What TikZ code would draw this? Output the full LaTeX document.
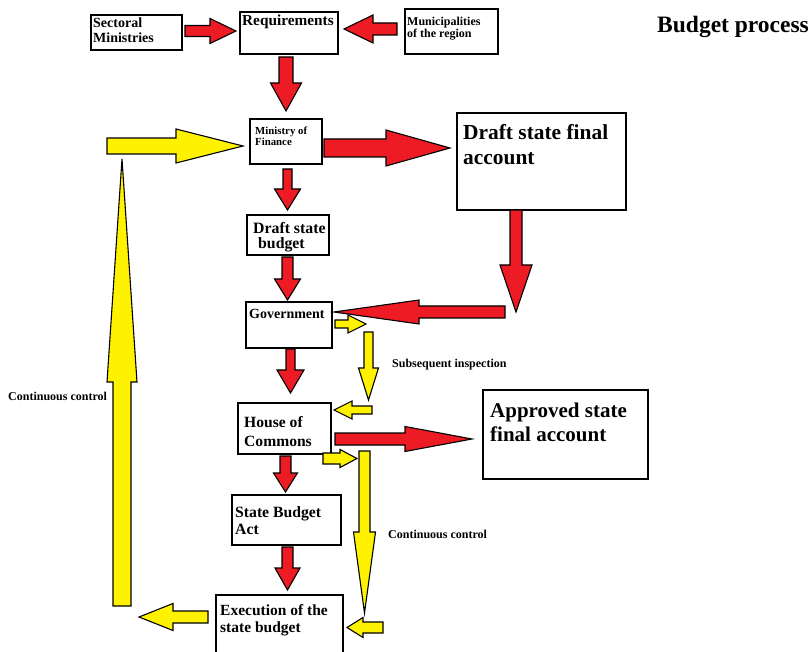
\documentclass[tikz,border=0pt]{standalone}
\usepackage{fontspec}
\setmainfont{Liberation Serif}
\definecolor{pred}{RGB}{237,28,36}
\definecolor{pyel}{RGB}{255,242,0}
\newcommand{\harr}[7]{\draw[blk,fill=#1] (#2,{#5-#6}) -- (#3,{#5-#6}) -- (#3,{#5-#7}) -- (#4,#5) -- (#3,{#5+#7}) -- (#3,{#5+#6}) -- (#2,{#5+#6}) -- cycle;}
\newcommand{\varr}[7]{\draw[blk,fill=#1] ({#2-#6},#3) -- ({#2-#6},#4) -- ({#2-#7},#4) -- (#2,#5) -- ({#2+#7},#4) -- ({#2+#6},#4) -- ({#2+#6},#3) -- cycle;}
\begin{document}
\begin{tikzpicture}[x=1pt,y=-1pt,
  box/.style={draw,line width=1.6pt,rectangle,inner sep=0,anchor=north west},
  txt/.style={inner sep=0,anchor=north west,align=left},
  blk/.style={draw=black,line width=1.1pt,line join=miter}]
\clip (0,0) rectangle (809,652);
\fill[white] (0,0) rectangle (809,652);
% boxes
\node[box,minimum width=91pt,minimum height=35pt] (sect) at (90,14) {};
\node[box,minimum width=98pt,minimum height=42pt] (req) at (239,11) {};
\node[box,minimum width=93pt,minimum height=45pt] (mun) at (404,8) {};
\node[box,minimum width=72pt,minimum height=45pt] (mof) at (249,118) {};
\node[box,minimum width=169pt,minimum height=97pt] (dsfa) at (456,112) {};
\node[box,minimum width=82pt,minimum height=40pt] (dsb) at (246,214) {};
\node[box,minimum width=86pt,minimum height=46pt] (gov) at (245,301) {};
\node[box,minimum width=93pt,minimum height=51pt] (hoc) at (237,402) {};
\node[box,minimum width=165pt,minimum height=89pt] (apr) at (482,389) {};
\node[box,minimum width=109pt,minimum height=50pt] (sba) at (231,494) {};
\node[box,minimum width=127pt,minimum height=70pt] (exe) at (215,594) {};
% texts
\node[txt,font=\bfseries\fontsize{14}{15.4}\selectfont] (tsect) at (93,17.5) {Sectoral\\Ministries};
\node[txt,font=\bfseries\fontsize{15.3}{17}\selectfont] (treq) at (242,15) {Requirements};
\node[txt,font=\bfseries\fontsize{12}{12}\selectfont] (tmun) at (407,16.6) {Municipalities\\of the region};
\node[txt,font=\bfseries\fontsize{10.8}{11.5}\selectfont] (tmof) at (255,126.5) {Ministry of\\Finance};
\node[txt,font=\bfseries\fontsize{21.4}{25}\selectfont] (tdsfa) at (463,124) {Draft state final\\account};
\node[txt,font=\bfseries\fontsize{15.8}{15.5}\selectfont] (tdsb) at (253,222) {Draft state\\\hspace*{5pt}budget};
\node[txt,font=\bfseries\fontsize{14}{16}\selectfont] (tgov) at (249,309.5) {Government};
\node[txt,font=\bfseries\fontsize{15.6}{19}\selectfont] (thoc) at (244,416) {House of\\Commons};
\node[txt,font=\bfseries\fontsize{21}{23.7}\selectfont] (tapr) at (490,403) {Approved state\\final account};
\node[txt,font=\bfseries\fontsize{15.7}{17}\selectfont] (tsba) at (235,506) {State Budget\\Act};
\node[txt,font=\bfseries\fontsize{15.5}{17.7}\selectfont] (texe) at (220,604) {Execution of the\\state budget};
\node[inner sep=0,anchor=west,font=\bfseries\fontsize{23.5}{25}\selectfont] (title) at (657,27) {Budget process};
\node[inner sep=0,anchor=west,font=\bfseries\fontsize{12}{13}\selectfont] (lsub) at (392,365) {Subsequent inspection};
\node[inner sep=0,anchor=west,font=\bfseries\fontsize{12}{13}\selectfont] (lcc1) at (388,534) {Continuous control};
\node[inner sep=0,anchor=west,font=\bfseries\fontsize{12}{13}\selectfont] (lcc2) at (8,396) {Continuous control};
% red arrows
\harr{pred}{185}{210}{236}{31}{5.5}{12.5}
\harr{pred}{397}{373}{344}{29}{6}{14}
\varr{pred}{286}{57}{83}{111}{7}{15.5}
\harr{pred}{324}{386}{450}{148}{9}{18}
\varr{pred}{287.5}{169}{189}{210}{4.5}{13}
\varr{pred}{287.5}{257}{279}{300}{5.5}{13}
\varr{pred}{516}{210}{265}{312}{6}{16}
\harr{pred}{505}{419}{334}{312}{6}{12}
\varr{pred}{290.5}{349}{370}{393}{4.5}{13.5}
\harr{pred}{335}{405}{472}{439}{6}{12.5}
\varr{pred}{285.5}{456}{473}{492}{5.5}{12}
\varr{pred}{287.5}{547}{568}{590}{5.5}{12.5}
% yellow arrows
\harr{pyel}{107}{176}{243}{146}{8}{17}
\varr{pyel}{122}{606}{382}{159}{9}{15}
\harr{pyel}{335}{348}{366}{324}{4}{9}
\varr{pyel}{368.5}{332}{368}{400}{4.5}{10}
\harr{pyel}{372}{352}{334}{410}{4}{9}
\harr{pyel}{323}{340}{357}{458.5}{5.5}{9}
\varr{pyel}{364.5}{451}{532}{613}{5.5}{11}
\harr{pyel}{383}{363}{347}{627.5}{5.5}{10}
\harr{pyel}{208}{173}{139}{617}{6}{13.5}
\end{tikzpicture}
\end{document}
